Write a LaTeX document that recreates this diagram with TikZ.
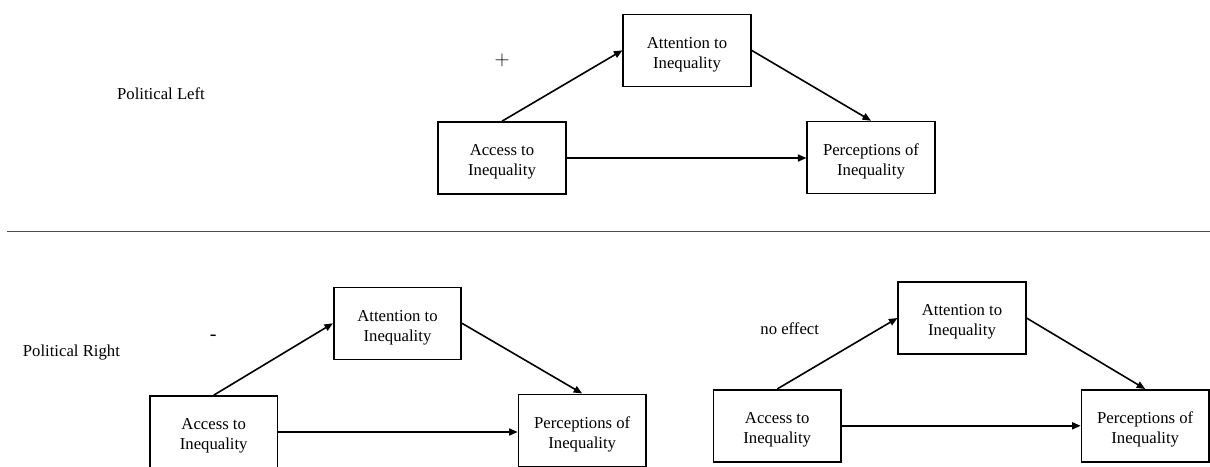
\documentclass[tikz,border=0pt]{standalone}
\usepackage{fontspec}
\setmainfont{Liberation Serif}
\usetikzlibrary{arrows.meta}
\newcommand\diagfont{\fontsize{16.7}{20}\selectfont}
\newcommand\signfont{\fontsize{20}{20}\selectfont}
% extra height on the first line lowers the two-line label a little
\newcommand\firstline{\rule{0pt}{19pt}}
\begin{document}
\begin{tikzpicture}[x=1pt,y=-1pt,
  box/.style={draw, line width=1.6pt, minimum width=127.5pt, minimum height=72pt,
              inner sep=0pt, align=center, font=\diagfont},
  link/.style={line width=1.6pt, -{Triangle[length=8.5pt,width=7pt]}},
  tag/.style={inner sep=0pt, anchor=base, font=\diagfont},
  sign/.style={inner sep=0pt, anchor=base, font=\signfont},
  rule/.style={line width=1.3pt, draw=black!70}]
\clip (0,0) rectangle (1210,466);
\fill[white] (0,0) rectangle (1210,466);

% ---- Political Left ----
\node[tag] (leftLbl) at (161,99.5) {Political Left};
\node[box] (tAtt) at (687,50.3)  {\firstline Attention to\\Inequality};
\node[box] (tAcc) at (502,158)   {\firstline Access to\\Inequality};
\node[box] (tPer) at (871,157.5) {\firstline Perceptions of\\Inequality};
\node[sign] (tSign) at (502,65) {$+$};
\draw[link] (tAcc.north) -- (tAtt.west);
\draw[link] (tAtt.east) -- (tPer.north);
\draw[link] (tAcc.east) -- (tAcc.east -| tPer.west);

% ---- divider ----
\coordinate (divL) at (7,231.7);
\coordinate (divR) at (1210,231.7);
\draw[rule] (divL) -- (divR);

% ---- Political Right ----
\node[tag] (rightLbl) at (71.4,356) {Political Right};

% first panel
\node[box] (lAtt) at (397.5,323.3) {\firstline Attention to\\Inequality};
\node[box] (lAcc) at (213.7,432)   {\firstline Access to\\Inequality};
\node[box] (lPer) at (582.2,430.3) {\firstline Perceptions of\\Inequality};
\node[sign] (lSign) at (213.3,340) {-};
\draw[link] (lAcc.north) -- (lAtt.west);
\draw[link] (lAtt.east) -- (lPer.north);
\draw[link] (lAcc.east) -- (lAcc.east -| lPer.west);

% second panel
\node[box] (rAtt) at (962,318)     {\firstline Attention to\\Inequality};
\node[box] (rAcc) at (777.2,425.8) {\firstline Access to\\Inequality};
\node[box] (rPer) at (1145.2,425.8){\firstline Perceptions of\\Inequality};
\node[tag] (rSign) at (789.7,334.3) {no effect};
\draw[link] (rAcc.north) -- (rAtt.west);
\draw[link] (rAtt.east) -- (rPer.north);
\draw[link] (rAcc.east) -- (rAcc.east -| rPer.west);
\end{tikzpicture}
\end{document}
